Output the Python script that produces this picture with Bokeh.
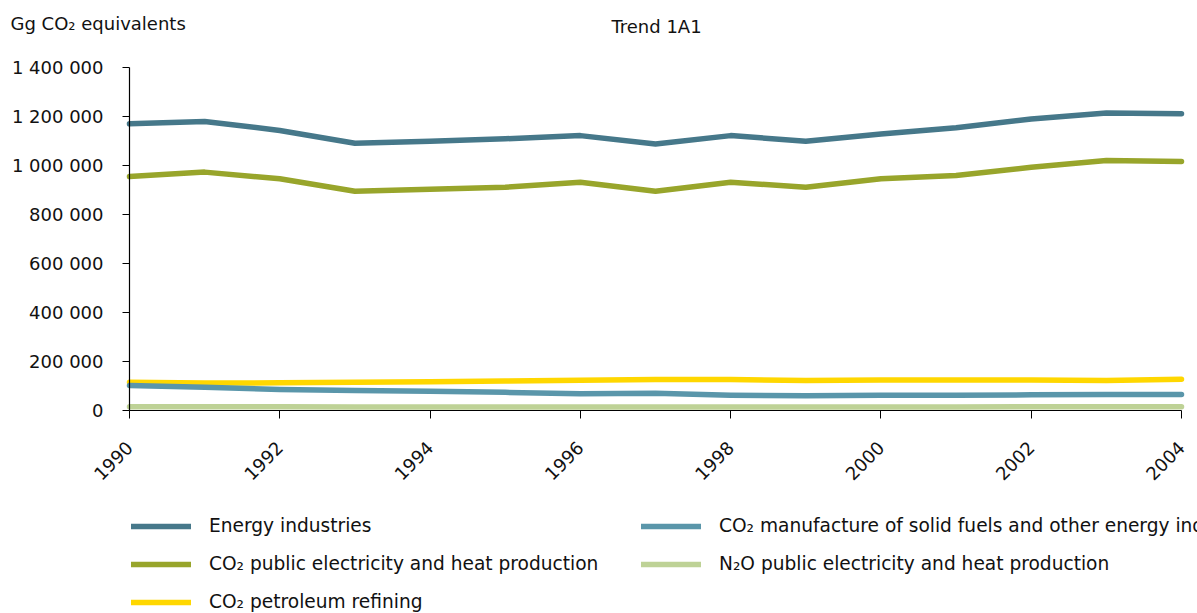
from math import pi
from bokeh.plotting import figure
from bokeh.models import Range1d, FixedTicker, Legend, LegendItem, Label
from bokeh.embed import file_html
from bokeh.resources import INLINE

years = [1990, 1991, 1992, 1993, 1994, 1995, 1996, 1997, 1998, 1999, 2000, 2001, 2002, 2003, 2004]
energy_industries = [1170000, 1180000, 1143000, 1091000, 1099000, 1109000, 1122000, 1088000,
                     1122000, 1099000, 1129000, 1154000, 1190000, 1214000, 1211000]
co2_public = [955000, 973000, 946000, 895000, 903000, 911000, 932000, 895000,
              932000, 911000, 946000, 959000, 993000, 1020000, 1016000]
co2_petroleum = [115000, 112000, 113000, 115000, 117000, 120000, 123000, 127000,
                 127000, 122000, 124000, 124000, 124000, 122000, 128000]
co2_manufacture = [102000, 95000, 86000, 82000, 79000, 74000, 68000, 70000,
                   62000, 60000, 62000, 62000, 64000, 65000, 65000]
n2o_public = [15000, 15000, 15000, 14000, 14000, 14000, 14000, 14000,
              14000, 14000, 14000, 14000, 15000, 15000, 15000]

series_names = [
    "Energy industries",
    "CO\u2082 public electricity and heat production",
    "CO\u2082 petroleum refining",
    "CO\u2082 manufacture of solid fuels and other energy industries",
    "N\u2082O public electricity and heat production",
]
series_values = [energy_industries, co2_public, co2_petroleum, co2_manufacture, n2o_public]
colors = ["#46788a", "#98a52b", "#ffd700", "#5a96aa", "#bed296"]

x_ticks = [1990, 1992, 1994, 1996, 1998, 2000, 2002, 2004]
y_ticks = [0, 200000, 400000, 600000, 800000, 1000000, 1200000, 1400000]
y_tick_labels = ["0", "200 000", "400 000", "600 000", "800 000", "1 000 000", "1 200 000", "1 400 000"]

title_text = "Trend 1A1"
y_title = "Gg CO\u2082 equivalents"

FONT = "DejaVu Sans"
FS = "18px"
FS_LEG = "18.6px"

# canvas geometry (pixels): the frame fills the canvas, the axes are drawn at fixed locations
W, H = 1197, 613
PLOT_LEFT, PLOT_RIGHT, PLOT_TOP, PLOT_BOTTOM = 129, 1181, 67, 410
x0, x1 = years[0], years[-1]
y0, y1 = y_ticks[0], y_ticks[-1]
sx = (PLOT_RIGHT - PLOT_LEFT) / (x1 - x0)
sy = (PLOT_BOTTOM - PLOT_TOP) / (y1 - y0)
x_range = Range1d(x0 - PLOT_LEFT / sx, x1 + (W - PLOT_RIGHT) / sx)
y_range = Range1d(y0 - (H - PLOT_BOTTOM) / sy, y1 + PLOT_TOP / sy)

p = figure(width=W, height=H, output_backend="svg", toolbar_location=None,
           x_range=x_range, y_range=y_range,
           min_border_left=0, min_border_right=0, min_border_top=0, min_border_bottom=0)
p.outline_line_color = None
p.xgrid.visible = False
p.ygrid.visible = False
p.background_fill_color = "white"
p.border_fill_color = "white"

items = []
for name, vals, col in zip(series_names, series_values, colors):
    r = p.line(years, vals, line_color=col, line_width=5.5, line_cap="round", line_join="round")
    items.append(LegendItem(label=name, renderers=[r]))

for ax in (p.xaxis[0], p.yaxis[0]):
    ax.axis_line_color = "black"
    ax.axis_line_width = 1.2
    ax.major_tick_line_color = "black"
    ax.major_tick_in = 0
    ax.minor_tick_line_color = None
    ax.major_label_text_font = FONT
    ax.major_label_text_font_size = FS
    ax.major_label_text_color = "#111111"

p.yaxis.fixed_location = x0
p.yaxis.bounds = (y0, y1)
p.yaxis.ticker = FixedTicker(ticks=y_ticks)
p.yaxis.major_label_overrides = {t: l for t, l in zip(y_ticks, y_tick_labels)}
p.yaxis.major_tick_out = 7
p.yaxis.major_label_standoff = 19

p.xaxis.fixed_location = y0
p.xaxis.bounds = (x0, x1)
p.xaxis.ticker = FixedTicker(ticks=x_ticks)
p.xaxis.major_tick_out = 8
p.xaxis.major_label_orientation = pi / 4
p.xaxis.major_label_standoff = 26

p.add_layout(Label(x=10, y=H - 23, x_units="screen", y_units="screen", text=y_title,
                   text_font=FONT, text_font_size=FS, text_baseline="middle",
                   text_color="#111111"))
p.add_layout(Label(x=656, y=H - 26, x_units="screen", y_units="screen", text=title_text,
                   text_font=FONT, text_font_size=FS, text_baseline="middle", text_align="center",
                   text_color="#111111"))

legend = Legend(items=items, location=(131, H - 612), orientation="vertical", nrows=3,
                glyph_width=60, glyph_height=20, label_height=20, label_width=415,
                label_standoff=18, spacing=17, padding=0, margin=0,
                border_line_color=None, background_fill_alpha=0,
                label_text_font=FONT, label_text_font_size=FS_LEG, label_text_color="#111111")
p.add_layout(legend, "center")

open("out.html", "w").write(file_html(p, INLINE))
